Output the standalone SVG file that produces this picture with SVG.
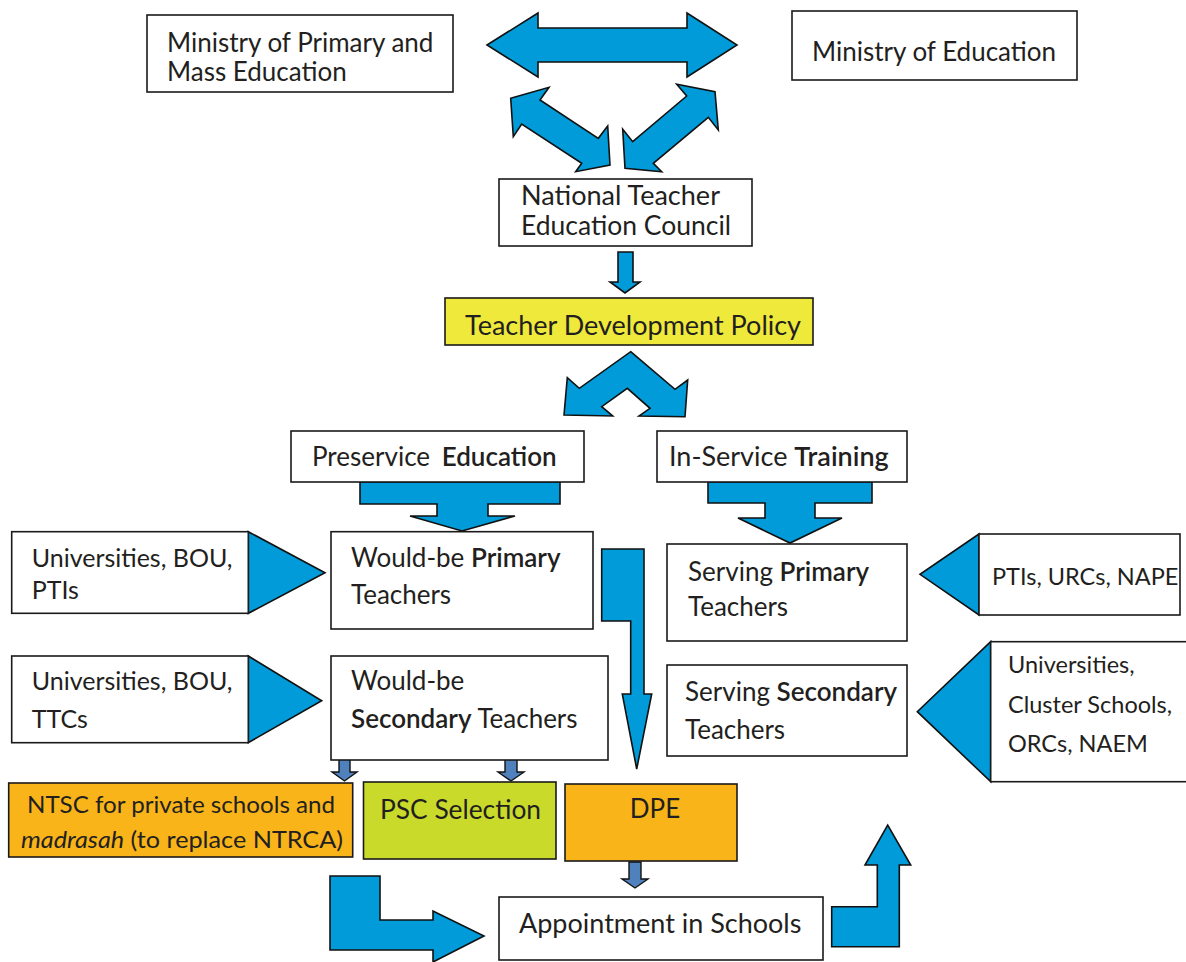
<svg xmlns="http://www.w3.org/2000/svg" width="1186" height="962" viewBox="0 0 1186 962">
<style>
.box{fill:#fff;stroke:#1a1a1a;stroke-width:1.6}
.arr{fill:#009BD8;stroke:#111;stroke-width:1.6;stroke-linejoin:miter}
.sarr{fill:#4F81BD;stroke:#111;stroke-width:1.4}
text{font-family:Lato,"Open Sans","Liberation Sans",sans-serif;font-size:26px;fill:#231F20}
.b{font-weight:600}
.l{font-size:27px}
.c{font-size:23.5px}
</style>
<rect width="1186" height="962" fill="#fff"/>
<g id="connectors">
<polygon class="arr" points="487,45 538,13 538,28 687,28 687,13 737,45 687,77 687,62 538,62 538,77"/>
<polygon class="arr" points="510.7,98.3 549,87.3 540,100 598.3,138.3 607.7,126 610,165 575.7,171.7 581.7,163.3 521.7,124 513.3,136.7"/>
<polygon class="arr" points="622.7,129.3 625,168.3 661.7,171.7 653.3,163.3 708.3,117.3 718.3,130 715,91.7 676.7,84.3 686.7,96 632.7,141.7"/>
<polygon class="arr" points="618,252 633,252 633,282 640,282 625,293 610,282 618,282"/>
<polygon class="arr" points="630.7,351.7 675,389.3 687.7,380 685,416.7 639,416 650,408.3 627.3,388.3 601.7,406.7 612.7,416 564,415 567.3,377.7 579.3,388.3"/>
<polygon class="arr" points="360,482 560,482 560,504 488,504 488,516 515,516 462,531 410,516 437,516 437,504 360,504"/>
<polygon class="arr" points="708,482 872,482 872,503 815,503 815,518 842,518 790,543 738,518 765,518 765,503 708,503"/>
<polygon class="arr" points="601.7,549 644,549 644,694 651.7,694 636.7,769 622.3,694 630.7,694 630.7,621 601.7,621"/>
<polygon class="arr" points="248.3,531.7 325,572.7 248.3,613.3"/>
<polygon class="arr" points="248.3,656 321.7,700.7 248.3,742.7"/>
<polygon class="arr" points="979,534 920,574.3 979,615"/>
<polygon class="arr" points="990.7,641.7 917.3,711.7 990.7,781.7"/>
<polygon class="sarr" points="339,757 350,757 350,772 357,772 344.5,781 332,772 339,772"/>
<polygon class="sarr" points="505,757 517,757 517,772 524,772 511,781 498,772 505,772"/>
<polygon class="sarr" points="629,862 641,862 641,879 648,879 635,888 622,879 629,879"/>
<polygon class="arr" points="330,876 380,876 380,920 433,920 433,911 484,936 433,962 433,950 330,950"/>
<polygon class="arr" points="831.7,906.7 877.3,906.7 877.3,865 865,865 887.7,825 910.7,865 899.3,865 899.3,946.7 831.7,946.7"/>
</g>
<g id="mopme"><rect class="box" x="147" y="15" width="306" height="77"/><text x="167" y="52">Ministry of Primary and</text><text x="167" y="81">Mass Education</text></g>
<g id="moe"><rect class="box" x="792" y="11" width="285" height="69"/><text x="812" y="61">Ministry of Education</text></g>
<g id="ntec"><rect class="box" x="499" y="179" width="253" height="67"/><text x="521" y="205" textLength="199" lengthAdjust="spacingAndGlyphs">National Teacher</text><text x="521" y="235" textLength="210" lengthAdjust="spacingAndGlyphs">Education Council</text></g>
<g id="tdp"><rect class="box" x="445" y="298" width="368" height="47" style="fill:#EFE93C"/><text x="465" y="335" class="l">Teacher Development Policy</text></g>
<g id="preservice"><rect class="box" x="291" y="431" width="293" height="51"/><text x="312" y="466">Preservice <tspan class="b" dx="5">Education</tspan></text></g>
<g id="inservice"><rect class="box" x="657" y="431" width="250" height="51"/><text x="669" y="466" class="l">In-Service <tspan class="b">Training</tspan></text></g>
<g id="wbprimary"><rect class="box" x="331" y="531.7" width="262" height="97.3"/><text x="351" y="567">Would-be <tspan class="b">Primary</tspan></text><text x="351" y="604">Teachers</text></g>
<g id="wbsecondary"><rect class="box" x="331" y="656" width="277" height="104"/><text x="351" y="690">Would-be</text><text x="351" y="728"><tspan class="b">Secondary</tspan> Teachers</text></g>
<g id="uni-pti"><rect class="box" x="11.7" y="531.7" width="236.6" height="81.6"/><text x="31.7" y="567" style="font-size:25px">Universities, BOU,</text><text x="31.7" y="599" style="font-size:25px">PTIs</text></g>
<g id="uni-ttc"><rect class="box" x="11.7" y="656" width="236.6" height="86.7"/><text x="31.7" y="690" style="font-size:25px">Universities, BOU,</text><text x="31.7" y="728" style="font-size:25px">TTCs</text></g>
<g id="sprimary"><rect class="box" x="667" y="544" width="240" height="97"/><text x="688" y="581">Serving <tspan class="b">Primary</tspan></text><text x="688" y="616">Teachers</text></g>
<g id="ssecondary"><rect class="box" x="667" y="665" width="240" height="91"/><text x="685" y="701">Serving <tspan class="b">Secondary</tspan></text><text x="685" y="739">Teachers</text></g>
<g id="pti-urc"><rect class="box" x="979" y="534" width="201" height="81"/><text x="992" y="585" class="c">PTIs, URCs, NAPE</text></g>
<g id="uni-cluster"><rect class="box" x="990.7" y="641.7" width="200" height="140"/><text x="1008" y="673" class="c">Universities,</text><text x="1008" y="713" class="c">Cluster Schools,</text><text x="1008" y="752" class="c">ORCs, NAEM</text></g>
<g id="ntsc"><rect class="box" x="8.7" y="783" width="344" height="74" style="fill:#F8B419"/><text x="27" y="813" style="font-size:23px" textLength="308" lengthAdjust="spacingAndGlyphs">NTSC for private schools and</text><text x="21" y="848" style="font-size:23px" textLength="322" lengthAdjust="spacingAndGlyphs"><tspan font-style="italic">madrasah</tspan> (to replace NTRCA)</text></g>
<g id="psc"><rect class="box" x="363.5" y="782" width="192.5" height="77" style="fill:#C9DA2A"/><text x="380" y="819" textLength="161" lengthAdjust="spacingAndGlyphs">PSC Selection</text></g>
<g id="dpe"><rect class="box" x="565" y="784" width="172" height="77" style="fill:#F8B419"/><text x="655" y="818" text-anchor="middle">DPE</text></g>
<g id="appointment"><rect class="box" x="499" y="897" width="324" height="63"/><text x="519" y="933" class="l">Appointment in Schools</text></g>
</svg>
